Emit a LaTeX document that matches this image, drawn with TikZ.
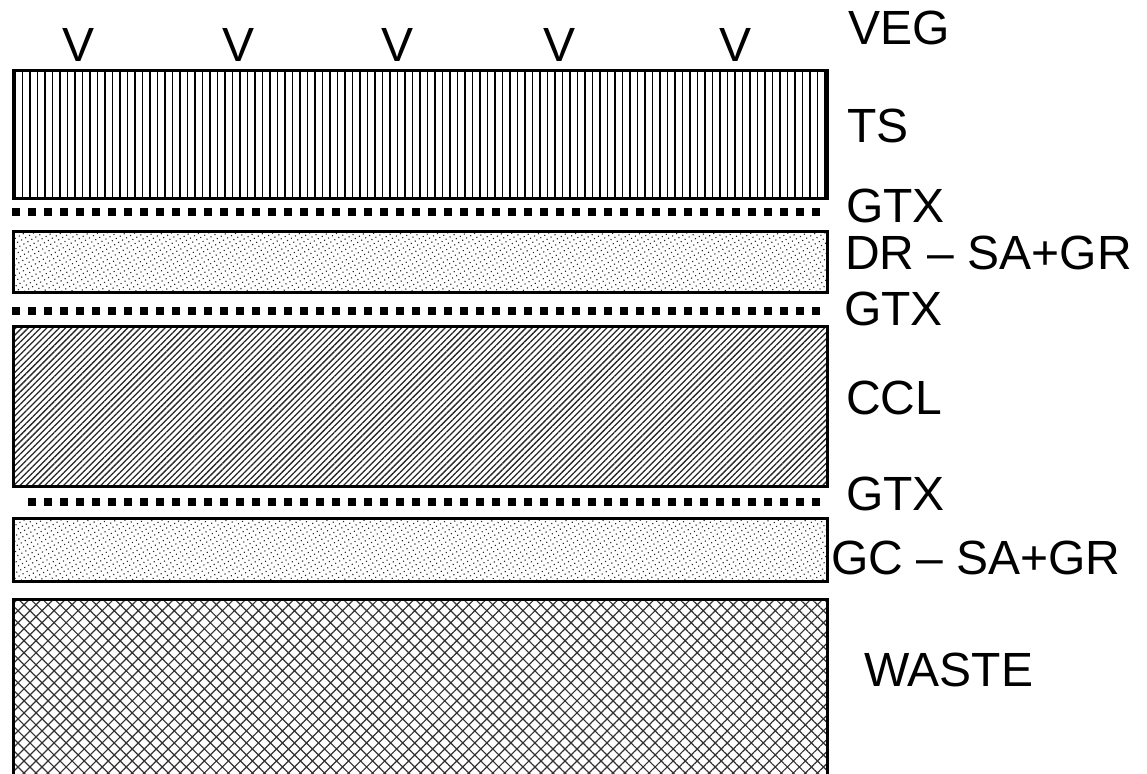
\documentclass[tikz,border=0pt]{standalone}
\usepackage{fontspec}
\setmainfont{Liberation Sans}
\usetikzlibrary{patterns.meta}

\begin{document}
\begin{tikzpicture}[
    x=1pt, y=-1pt,
    layer/.style={rectangle, draw, line width=3pt, inner sep=0pt,
                  minimum width=814pt},
    gtx/.style={line width=8pt, dash pattern=on 8pt off 8pt},
    lbl/.style={anchor=base west, inner sep=0pt,
                font=\fontsize{48}{48}\selectfont},
    veg/.style={anchor=base, inner sep=0pt,
                font=\fontsize{48}{48}\selectfont}
]
  \useasboundingbox (0,0) rectangle (1147,773);

  % soil layers, top to bottom
  \node[layer, minimum height=127.5pt,
        pattern={Lines[angle=90, distance=7.5pt, line width=1.6pt]}] (ts) at (420.5,134.25) {};
  \node[layer, minimum height=61pt,
        pattern={Dots[distance=4.6pt, radius=0.8pt, angle=30]}, pattern color=black!85] (dr) at (420.5,262) {};
  \node[layer, minimum height=159.5pt,
        pattern={Lines[angle=45, distance=4.4pt, line width=1.3pt]}, pattern color=black!85] (ccl) at (420.5,406.25) {};
  \node[layer, minimum height=62.5pt,
        pattern={Dots[distance=4.6pt, radius=0.8pt, angle=30]}, pattern color=black!85] (gc) at (420.5,549.75) {};
  \node[layer, minimum height=177pt,
        pattern={Hatch[angle=45, distance=8.5pt, line width=1.2pt]}, pattern color=black!80] (waste) at (420.5,687.5) {};

  % geotextiles
  \coordinate (g1a) at (12,212);  \coordinate (g1b) at (820,212);
  \coordinate (g2a) at (12,311);  \coordinate (g2b) at (820,311);
  \coordinate (g3a) at (28,502);  \coordinate (g3b) at (820,502);
  \draw[gtx] (g1a) -- (g1b);
  \draw[gtx] (g2a) -- (g2b);
  \draw[gtx] (g3a) -- (g3b);

  % vegetation marks
  \foreach \vx [count=\i] in {79,239,398,559,735}
    \node[veg] (v\i) at (\vx,62) {V};

  % labels
  \node[lbl] (lveg) at (848,45) {VEG};
  \node[lbl] (lts) at (847,142) {TS};
  \node[lbl] (lgtx1) at (846,222) {GTX};
  \node[lbl] (ldr) at (845,269) {DR -- SA+GR};
  \node[lbl] (lgtx2) at (844,325) {GTX};
  \node[lbl] (lccl) at (846,414) {CCL};
  \node[lbl] (lgtx3) at (846,510) {GTX};
  \node[lbl] (lgc) at (831,574) {GC -- SA+GR};
  \node[lbl] (lwaste) at (864,686) {WASTE};
\end{tikzpicture}
\end{document}
